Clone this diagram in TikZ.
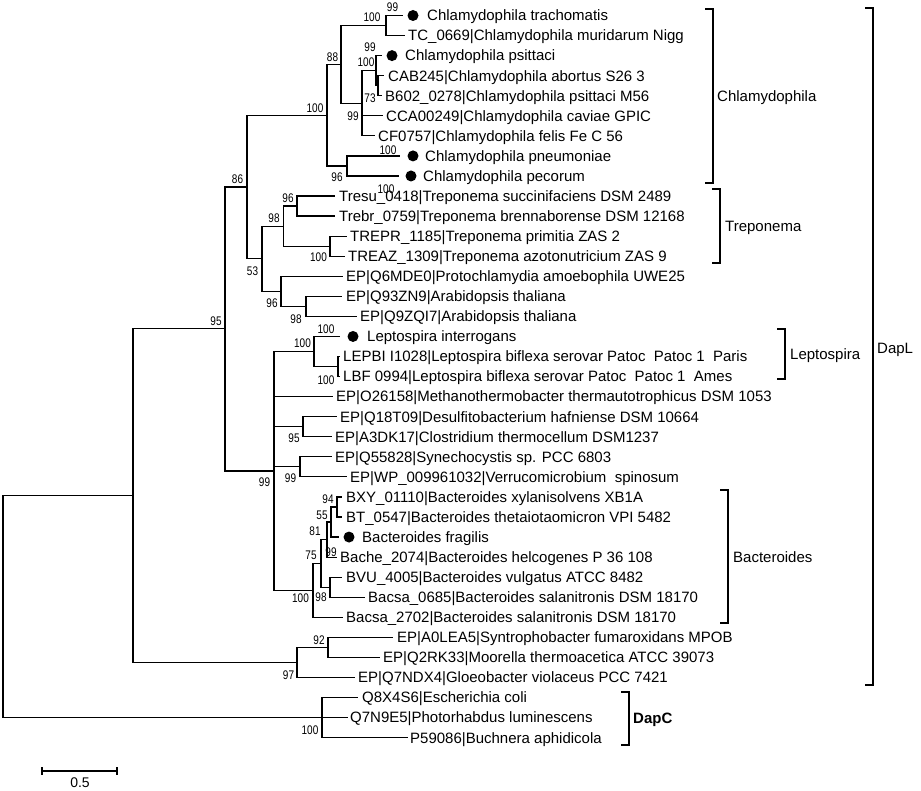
\documentclass[tikz,border=0pt]{standalone}
\usepackage{fontspec}
\setmainfont{Liberation Sans}
\newfontfamily\bootfont[FakeStretch=0.8]{Liberation Sans}

\begin{document}
\begin{tikzpicture}[x=1pt,y=-1pt,
    treeline/.style={line width=1.2pt},
    leaflabel/.style={anchor=west,inner sep=0pt,text height=10.7pt,text depth=0pt,
      font=\fontsize{15}{18}\selectfont},
    bootval/.style={inner sep=0pt,font=\bootfont\fontsize{12.5}{14}\selectfont},
    cladebar/.style={line width=1.3pt},
    cladename/.style={anchor=west,inner sep=0pt,text height=10.7pt,text depth=0pt,
      font=\fontsize{15}{18}\selectfont}]
    \useasboundingbox (0,0) rectangle (921,791);

    % leaves: index / tip x / label x / label
    \foreach \i/\tx/\lx/\lab in {
      1/403/427/Chlamydophila trachomatis,
      2/405/408/TC\_0669|Chlamydophila muridarum Nigg,
      3/382/405/Chlamydophila psittaci,
      4/384/388/CAB245|Chlamydophila abortus S26 3,
      5/382/385/B602\_0278|Chlamydophila psittaci M56,
      6/383/386/CCA00249|Chlamydophila caviae GPIC,
      7/375/378/CF0757|Chlamydophila felis Fe C 56,
      8/400/425/Chlamydophila pneumoniae,
      9/399/423/Chlamydophila pecorum,
      10/335/339/Tresu\_0418|Treponema succinifaciens DSM 2489,
      11/335/339/Trebr\_0759|Treponema brennaborense DSM 12168,
      12/347/350/TREPR\_1185|Treponema primitia ZAS 2,
      13/345/348/TREAZ\_1309|Treponema azotonutricium ZAS 9,
      14/343/346/EP|Q6MDE0|Protochlamydia amoebophila UWE25,
      15/342/346/EP|Q93ZN9|Arabidopsis thaliana,
      16/357/360/EP|Q9ZQI7|Arabidopsis thaliana,
      17/340/367/Leptospira interrogans,
      18/340/343/LEPBI I1028|Leptospira biflexa serovar Patoc\ \ Patoc 1\ \ Paris,
      19/340/343/LBF 0994|Leptospira biflexa serovar Patoc\ \ Patoc 1\ \ Ames,
      20/333/336/EP|O26158|Methanothermobacter thermautotrophicus DSM 1053,
      21/337/340/EP|Q18T09|Desulfitobacterium hafniense DSM 10664,
      22/332/335/EP|A3DK17|Clostridium thermocellum DSM1237,
      23/332/335/EP|Q55828|Synechocystis sp. PCC 6803,
      24/347/350/EP|WP\_009961032|Verrucomicrobium\ \ spinosum,
      25/342/346/BXY\_01110|Bacteroides xylanisolvens XB1A,
      26/342/346/BT\_0547|Bacteroides thetaiotaomicron VPI 5482,
      27/339/362/Bacteroides fragilis,
      28/337/340/Bache\_2074|Bacteroides helcogenes P 36 108,
      29/342/346/BVU\_4005|Bacteroides vulgatus ATCC 8482,
      30/365/368/Bacsa\_0685|Bacteroides salanitronis DSM 18170,
      31/343/346/Bacsa\_2702|Bacteroides salanitronis DSM 18170,
      32/393/397/EP|A0LEA5|Syntrophobacter fumaroxidans MPOB,
      33/380/383/EP|Q2RK33|Moorella thermoacetica ATCC 39073,
      34/355/358/EP|Q7NDX4|Gloeobacter violaceus PCC 7421,
      35/358/362/Q8X4S6|Escherichia coli,
      36/348/350/Q7N9E5|Photorhabdus luminescens,
      37/408/410/P59086|Buchnera aphidicola}{
      \pgfmathsetmacro\yy{15.5+20.06*(\i-1)}
      \coordinate (t\i) at (\tx,\yy);
      \node[leaflabel] (l\i) at (\lx,\yy) {\lab};
    }
    % filled dots
    \foreach \i/\dx in {1/413,3/392,8/413,9/411,17/353,27/349}{
      \pgfmathsetmacro\yy{15.5+20.06*(\i-1)}
      \fill (\dx,\yy) circle (5.5pt);
    }

    % internal nodes
    \coordinate (nTr) at (386,25.53);
    \coordinate (n73) at (378,85.71);
    \coordinate (nPs) at (376,70.67);
    \coordinate (nCl) at (362,103.26);
    \coordinate (n88) at (341,64.4);
    \coordinate (nPn) at (347,165.95);
    \coordinate (nCh) at (327,115.17);
    \coordinate (nTs) at (297,206.07);
    \coordinate (nTz) at (330,246.19);
    \coordinate (nTp) at (283.5,226.13);
    \coordinate (nAr) at (306,306.37);
    \coordinate (nEp) at (281,291.33);
    \coordinate (n53) at (262,258.73);
    \coordinate (n86) at (247,186.95);
    \coordinate (nLb) at (338,366.55);
    \coordinate (nLe) at (314,351.5);
    \coordinate (nDe) at (303,426.73);
    \coordinate (nSy) at (300,466.85);
    \coordinate (n94) at (337,506.97);
    \coordinate (n55) at (331,522.02);
    \coordinate (n81) at (327,539.57);
    \coordinate (nBv) at (330,587.21);
    \coordinate (n75) at (321,563.39);
    \coordinate (nBa) at (313,590.35);
    \coordinate (n99) at (274,470.9);
    \coordinate (n95) at (225,328.9);
    \coordinate (n92) at (328,647.39);
    \coordinate (n97) at (297,662.4);
    \coordinate (nDL) at (133,495.7);
    \coordinate (nDC) at (322,717.6);
    \coordinate (root) at (3,606.6);

    % branches
    \foreach \p/\c in {nTr/t1,nTr/t2,nPs/t3,nPs/n73,n73/t4,n73/t5,
        nCl/nPs,nCl/t6,nCl/t7,n88/nTr,n88/nCl,nPn/t8,nPn/t9,nCh/n88,nCh/nPn,
        nTs/t10,nTs/t11,nTz/t12,nTz/t13,nTp/nTs,nTp/nTz,nAr/t15,nAr/t16,
        nEp/t14,nEp/nAr,n53/nTp,n53/nEp,n86/nCh,n86/n53,
        nLb/t18,nLb/t19,nLe/t17,nLe/nLb,nDe/t21,nDe/t22,nSy/t23,nSy/t24,
        n94/t25,n94/t26,n55/n94,n55/t27,n81/n55,n81/t28,nBv/t29,nBv/t30,
        n75/n81,n75/nBv,nBa/n75,nBa/t31,
        n99/nLe,n99/t20,n99/nDe,n99/nSy,n99/nBa,n95/n86,n95/n99,
        n92/t32,n92/t33,n97/n92,n97/t34,nDL/n95,nDL/n97,
        nDC/t35,nDC/t36,nDC/t37,root/nDL,root/nDC}
      \draw[treeline] (\p) |- (\c);

    % bootstrap values
    \foreach \n/\sx/\sy/\v in {
        b1/392.5/7/99,b2/372/17/100,b3/332.5/57/88,b4/370/47/99,
        b5/366/62.5/100,b6/370/98/73,b7/353/116.5/99,b8/315/108/100,
        b9/388/150/100,b10/337/177/96,b11/386/189/100,b12/237.5/179/86,
        b13/288/198/96,b14/274/218/98,b15/318.5/257.5/100,b16/252.5/271/53,
        b17/272/303/96,b18/296/319/98,b19/326/329/100,b20/302.5/343/100,
        b21/326/380/100,b22/216/321/95,b23/294/438/95,b24/264.5/482.5/99,
        b25/290.5/478/99,b26/328/499/94,b27/322/515/55,b28/315/531.5/81,
        b29/331/552/99,b30/311/555/75,b31/300.5/598/100,b32/321/597/98,
        b33/319/640/92,b34/288.5/675/97,b35/310/730/100}
      \node[bootval] (\n) at (\sx,\sy) {\v};

    % clade brackets
    \coordinate (chlT) at (705,9);
    \coordinate (chlB) at (705,183);
    \draw[cladebar] (chlT) -- ++(8,0) |- (chlB);
    \node[cladename] (chl) at (717,96) {Chlamydophila};
    \coordinate (treT) at (712,189);
    \coordinate (treB) at (712,263);
    \draw[cladebar] (treT) -- ++(8,0) |- (treB);
    \node[cladename] (tre) at (725,226) {Treponema};
    \coordinate (lepT) at (777,329);
    \coordinate (lepB) at (777,379);
    \draw[cladebar] (lepT) -- ++(8,0) |- (lepB);
    \node[cladename] (lep) at (790,354) {Leptospira};
    \coordinate (bacT) at (720,490);
    \coordinate (bacB) at (720,623);
    \draw[cladebar] (bacT) -- ++(8,0) |- (bacB);
    \node[cladename] (bac) at (733,557) {Bacteroides};
    \coordinate (dlT) at (865,8);
    \coordinate (dlB) at (865,685);
    \draw[cladebar] (dlT) -- ++(8,0) |- (dlB);
    \node[cladename] (dapl) at (877,348) {DapL};
    \coordinate (dcT) at (621,692);
    \coordinate (dcB) at (621,745);
    \draw[cladebar] (dcT) -- ++(8,0) |- (dcB);
    \node[cladename,font=\fontsize{15}{18}\selectfont\bfseries] (dapc) at (633,718) {DapC};

    % scale bar
    \coordinate (sbL) at (42,771);
    \coordinate (sbR) at (117,771);
    \draw[treeline] (sbL) -- (sbR);
    \draw[treeline] (sbL) ++(0,-4) -- ++(0,8);
    \draw[treeline] (sbR) ++(0,-4) -- ++(0,8);
    \node[inner sep=0pt,font=\fontsize{14}{16}\selectfont] (sblab) at (80,783) {0.5};
\end{tikzpicture}
\end{document}
